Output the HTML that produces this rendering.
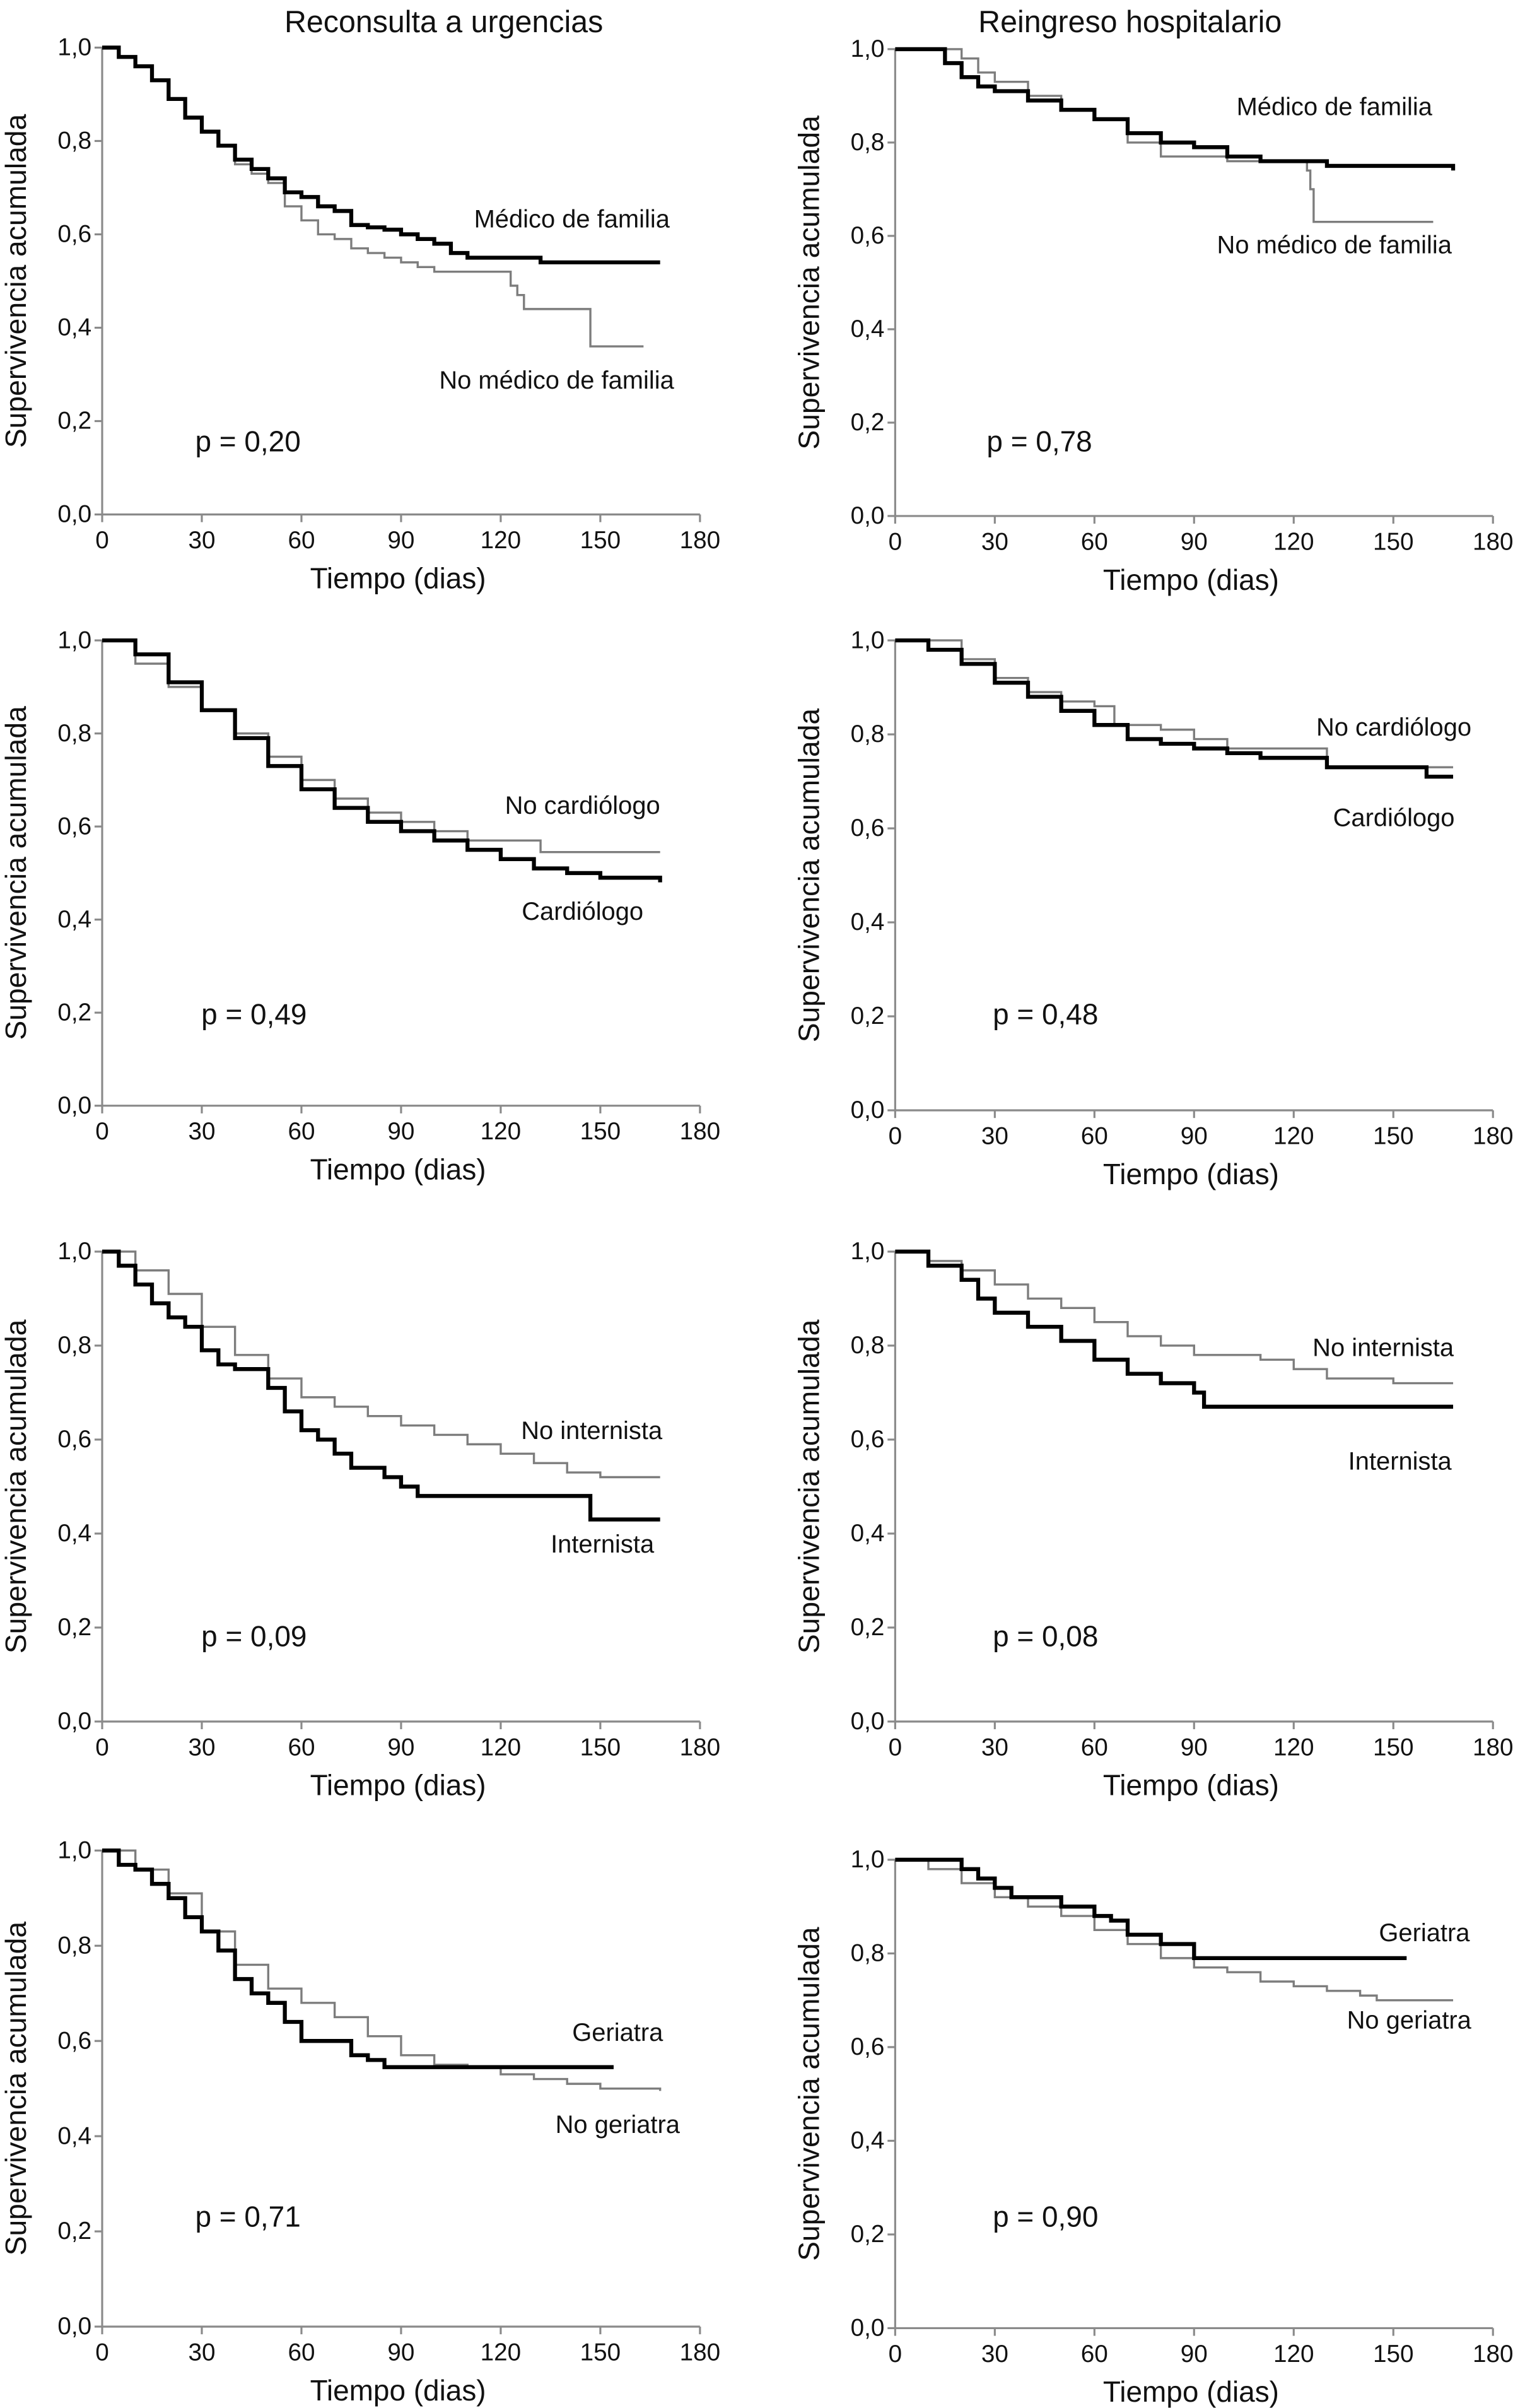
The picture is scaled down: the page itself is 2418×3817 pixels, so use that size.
<!DOCTYPE html>
<html><head><meta charset="utf-8"><style>
html,body{margin:0;padding:0;background:#fff}
svg{display:block}
text{font-family:"Liberation Sans",sans-serif;fill:#111}
</style></head><body>
<svg id="chart" width="2418" height="3817" viewBox="0 0 1000 1568" preserveAspectRatio="none" xmlns="http://www.w3.org/2000/svg">
<text x="291" y="21" font-size="20" text-anchor="middle">Reconsulta a urgencias</text>
<text x="741" y="21" font-size="20" text-anchor="middle">Reingreso hospitalario</text>
</svg>
<script>
const xTicks=[0,30,60,90,120,150,180];
const yTicks=[0,0.2,0.4,0.6,0.8,1.0];
const yTickLabels=["0,0","0,2","0,4","0,6","0,8","1,0"];

const p1BlackT=[0,5,10,15,20,25,30,35,40,45,50,55,60,65,70,75,80,85,90,95,100,105,110,132,168];
const p1BlackS=[1,0.98,0.96,0.93,0.89,0.85,0.82,0.79,0.76,0.74,0.72,0.69,0.68,0.66,0.65,0.62,0.615,0.61,0.60,0.59,0.58,0.56,0.55,0.54,0.54];
const p1GrayT=[0,5,10,15,20,25,30,35,40,45,50,55,60,65,70,75,80,85,90,95,100,123,125,127,147,163];
const p1GrayS=[1,0.98,0.96,0.93,0.89,0.85,0.82,0.79,0.75,0.73,0.71,0.66,0.63,0.60,0.59,0.57,0.56,0.55,0.54,0.53,0.52,0.49,0.47,0.44,0.36,0.36];

const p2BlackT=[0,10,15,20,25,30,40,50,60,70,80,90,100,110,130,168];
const p2BlackS=[1,1,0.97,0.94,0.92,0.91,0.89,0.87,0.85,0.82,0.80,0.79,0.77,0.76,0.75,0.74];
const p2GrayT=[0,20,25,30,40,50,60,70,80,100,124,125,126,162];
const p2GrayS=[1,0.98,0.95,0.93,0.90,0.87,0.85,0.80,0.77,0.76,0.74,0.70,0.63,0.63];

const p3BlackT=[0,10,20,30,40,50,60,70,80,90,100,110,120,130,140,150,168];
const p3BlackS=[1,0.97,0.91,0.85,0.79,0.73,0.68,0.64,0.61,0.59,0.57,0.55,0.53,0.51,0.50,0.49,0.48];
const p3GrayT=[0,10,20,30,40,50,60,70,80,90,100,110,132,168];
const p3GrayS=[1,0.95,0.90,0.85,0.80,0.75,0.70,0.66,0.63,0.61,0.59,0.57,0.545,0.545];

const p4BlackT=[0,10,20,30,40,50,60,70,80,90,100,110,130,160,168];
const p4BlackS=[1,0.98,0.95,0.91,0.88,0.85,0.82,0.79,0.78,0.77,0.76,0.75,0.73,0.71,0.71];
const p4GrayT=[0,20,30,40,50,60,66,80,90,100,130,168];
const p4GrayS=[1,0.96,0.92,0.89,0.87,0.86,0.82,0.81,0.79,0.77,0.73,0.73];

const p5BlackT=[0,5,10,15,20,25,30,35,40,50,55,60,65,70,75,85,90,95,147,168];
const p5BlackS=[1,0.97,0.93,0.89,0.86,0.84,0.79,0.76,0.75,0.71,0.66,0.62,0.60,0.57,0.54,0.52,0.50,0.48,0.43,0.43];
const p5GrayT=[0,10,20,30,40,50,60,70,80,90,100,110,120,130,140,150,168];
const p5GrayS=[1,0.96,0.91,0.84,0.78,0.73,0.69,0.67,0.65,0.63,0.61,0.59,0.57,0.55,0.53,0.52,0.52];

const p6BlackT=[0,10,20,25,30,40,50,60,70,80,90,93,168];
const p6BlackS=[1,0.97,0.94,0.90,0.87,0.84,0.81,0.77,0.74,0.72,0.70,0.67,0.67];
const p6GrayT=[0,10,20,30,40,50,60,70,80,90,110,120,130,150,168];
const p6GrayS=[1,0.98,0.96,0.93,0.90,0.88,0.85,0.82,0.80,0.78,0.77,0.75,0.73,0.72,0.72];

const p7BlackT=[0,5,10,15,20,25,30,35,40,45,50,55,60,75,80,85,154];
const p7BlackS=[1,0.97,0.96,0.93,0.90,0.86,0.83,0.79,0.73,0.70,0.68,0.64,0.60,0.57,0.56,0.545,0.545];
const p7GrayT=[0,10,20,30,40,50,60,70,80,90,100,110,120,130,140,150,168];
const p7GrayS=[1,0.96,0.91,0.83,0.76,0.71,0.68,0.65,0.61,0.57,0.55,0.545,0.53,0.52,0.51,0.50,0.495];

const p8BlackT=[0,20,25,30,35,50,60,65,70,80,90,154];
const p8BlackS=[1,0.98,0.96,0.94,0.92,0.90,0.88,0.87,0.84,0.82,0.79,0.79];
const p8GrayT=[0,10,20,30,40,50,60,70,80,90,100,110,120,130,140,145,168];
const p8GrayS=[1,0.98,0.95,0.92,0.90,0.88,0.85,0.82,0.79,0.77,0.76,0.74,0.73,0.72,0.71,0.70,0.70];

const panelPValues=["p = 0,20","p = 0,78","p = 0,49","p = 0,48","p = 0,09","p = 0,08","p = 0,71","p = 0,90"];
const panelBlackLabels=["Médico de familia","Médico de familia","Cardiólogo","Cardiólogo","Internista","Internista","Geriatra","Geriatra"];
const panelGrayLabels=["No médico de familia","No médico de familia","No cardiólogo","No cardiólogo","No internista","No internista","No geriatra","No geriatra"];

const NS="http://www.w3.org/2000/svg";
const svg=document.getElementById('chart');
function mk(tag,attrs,parent){const e=document.createElementNS(NS,tag);for(const k in attrs)e.setAttribute(k,attrs[k]);(parent||svg).appendChild(e);return e;}

const layout=[
 {x0:67,x1:459,yTop:31,yBot:335,bl:[375,143],gl:[365,248],pv:[128,288]},
 {x0:587,x1:979,yTop:32,yBot:336,bl:[875,70],gl:[875,160],pv:[647,288]},
 {x0:67,x1:459,yTop:417,yBot:720,bl:[382,594],gl:[382,525],pv:[132,661]},
 {x0:587,x1:979,yTop:417,yBot:723,bl:[914,533],gl:[914,474],pv:[651,661]},
 {x0:67,x1:459,yTop:815,yBot:1121,bl:[395,1006],gl:[388,932],pv:[132,1066]},
 {x0:587,x1:979,yTop:815,yBot:1121,bl:[918,952],gl:[907,878],pv:[651,1066]},
 {x0:67,x1:459,yTop:1205,yBot:1515,bl:[405,1324],gl:[405,1384],pv:[128,1444]},
 {x0:587,x1:979,yTop:1211,yBot:1516,bl:[934,1259],gl:[924,1316],pv:[651,1444]}
];
const blackSeries=[[p1BlackT,p1BlackS],[p2BlackT,p2BlackS],[p3BlackT,p3BlackS],[p4BlackT,p4BlackS],[p5BlackT,p5BlackS],[p6BlackT,p6BlackS],[p7BlackT,p7BlackS],[p8BlackT,p8BlackS]];
const graySeries=[[p1GrayT,p1GrayS],[p2GrayT,p2GrayS],[p3GrayT,p3GrayS],[p4GrayT,p4GrayS],[p5GrayT,p5GrayS],[p6GrayT,p6GrayS],[p7GrayT,p7GrayS],[p8GrayT,p8GrayS]];

function stepPath(T,S,xs,ys){let d='M'+xs(T[0])+','+ys(S[0]);for(let i=1;i<T.length;i++){d+=' H'+xs(T[i])+' V'+ys(S[i]);}return d;}

layout.forEach((L,i)=>{
 const g=mk('g',{});
 
 
 const xs=t=>L.x0+(L.x1-L.x0)*t/180;
 const ys=v=>L.yBot-(L.yBot-L.yTop)*v;
 const ax=mk('path',{d:'M'+L.x0+','+L.yTop+' V'+L.yBot+' H'+L.x1,stroke:'#8a8a8a','stroke-width':1.3,fill:'none'},g);
 
 
 xTicks.forEach(t=>{
  mk('line',{x1:xs(t),x2:xs(t),y1:L.yBot,y2:L.yBot+5,stroke:'#8a8a8a','stroke-width':1.3},g);
  const tl=mk('text',{x:xs(t),y:L.yBot+22,'font-size':16,'text-anchor':'middle'},g);
  
  
  tl.textContent=t;
 });
 yTicks.forEach((v,k)=>{
  mk('line',{x1:L.x0-5,x2:L.x0,y1:ys(v),y2:ys(v),stroke:'#8a8a8a','stroke-width':1.3},g);
  const tl=mk('text',{x:L.x0-7,y:ys(v)+5,'font-size':16,'text-anchor':'end'},g);
  
  
  tl.textContent=yTickLabels[k];
 });
 const xt=mk('text',{x:(L.x0+L.x1)/2-2,y:L.yBot+48,'font-size':19,'text-anchor':'middle'},g);
 
 
 xt.textContent='Tiempo (dias)';
 const cy=(L.yTop+L.yBot)/2;const cx=L.x0-50;
 const yt=mk('text',{x:cx,y:cy,'font-size':19,'text-anchor':'middle',transform:'rotate(-90 '+cx+' '+cy+')'},g);
 
 
 yt.textContent='Supervivencia acumulada';
 const gs=graySeries[i];
 const gp=mk('path',{d:stepPath(gs[0],gs[1],xs,ys),stroke:'#7d7d7d','stroke-width':1.4,fill:'none'},g);
 
 
 const bs=blackSeries[i];
 const bp=mk('path',{d:stepPath(bs[0],bs[1],xs,ys),stroke:'#000','stroke-width':2.6,fill:'none'},g);
 
 
 const bl=mk('text',{x:L.bl[0],y:L.bl[1]+5,'font-size':16.5,'text-anchor':'middle'},g);
 
 
 bl.textContent=panelBlackLabels[i];
 const gl=mk('text',{x:L.gl[0],y:L.gl[1]+5,'font-size':16.5,'text-anchor':'middle'},g);
 
 
 gl.textContent=panelGrayLabels[i];
 const pv=mk('text',{x:L.pv[0],y:L.pv[1]+6,'font-size':19},g);
 
 
 pv.textContent=panelPValues[i];
});
</script>
</body></html>
